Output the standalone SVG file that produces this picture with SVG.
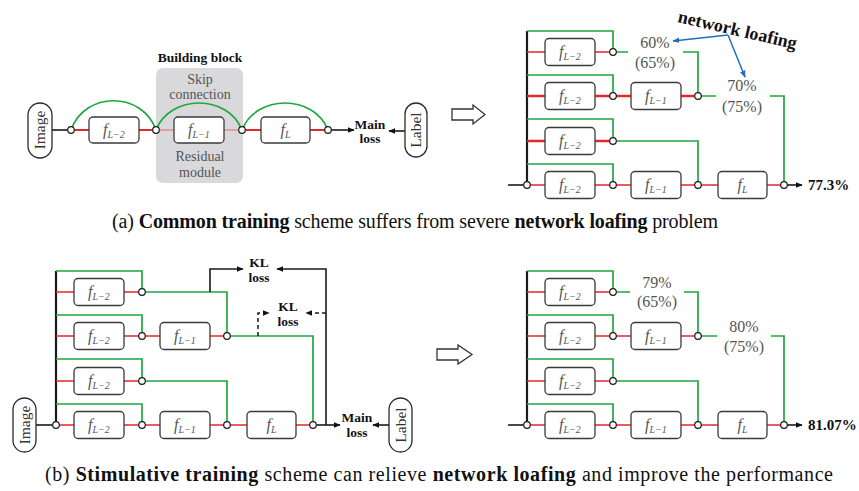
<svg xmlns="http://www.w3.org/2000/svg" width="859" height="491" viewBox="0 0 859 491">
<style>
text{font-family:"Liberation Serif","Times New Roman",serif}
.blk{stroke:#1a1a1a;stroke-width:1.6;fill:none}
.trunk{stroke:#1a1a1a;stroke-width:2.2;fill:none}
.dash{stroke:#1a1a1a;stroke-width:1.5;fill:none;stroke-dasharray:4 3}
.grn{stroke:#1fa83f;stroke-width:1.7;fill:none}
.red{stroke:#e8262b;stroke-width:1.7;fill:none}
.redl{stroke:#e98a8c;stroke-width:1.7;fill:none}
.blue{stroke:#1f6fc0;stroke-width:1.5;fill:none}
.box{fill:#fff;stroke:#3a3a3a;stroke-width:1.3}
.pill{fill:#fff;stroke:#2a2a2a;stroke-width:1.3}
.jn{fill:#fff;stroke:#1a1a1a;stroke-width:1.2}
.fl{font-size:16px;font-style:italic;fill:#555;text-anchor:middle}
.sub{font-size:10px}
.pct{font-size:16px;fill:#555;text-anchor:middle}
.gt{font-size:14px;fill:#555;text-anchor:middle}
.lb{font-size:13.5px;font-weight:bold;fill:#111;text-anchor:middle}
.res{font-size:15px;font-weight:bold;fill:#111}
.pt{font-size:15.5px;fill:#333;text-anchor:middle}
.cap{font-size:20px;fill:#111}
.b{font-weight:bold}
</style>
<defs>
<marker id="ah" viewBox="0 0 10 10" refX="9" refY="5" markerWidth="7" markerHeight="7" markerUnits="userSpaceOnUse" orient="auto"><path d="M0,1 L10,5 L0,9 z" fill="#111"/></marker>
<marker id="ahb" viewBox="0 0 10 10" refX="9" refY="5" markerWidth="7" markerHeight="7" markerUnits="userSpaceOnUse" orient="auto"><path d="M0,1 L10,5 L0,9 z" fill="#1f6fc0"/></marker>
</defs>

<!-- ===== Top-left: building block ===== -->
<g id="building-block">
<rect x="156" y="68" width="87" height="115" rx="7" fill="#d9d9db"/>
<text class="lb" x="200" y="62">Building block</text>
<text class="gt" x="200" y="84">Skip</text>
<text class="gt" x="200" y="99">connection</text>
<text class="gt" x="200" y="161">Residual</text>
<text class="gt" x="200" y="177">module</text>
</g>
<g id="tl-connectors">
<path class="blk" d="M52,130H71"/>
<path class="red" style="stroke-width:2.2" d="M71,130H89M139,130H156M242,130H261M310,130H328"/>
<path class="redl" d="M156,130H174M224,130H242"/>
<path class="grn" d="M71,130C85,91 142,91 156,130"/>
<path class="grn" d="M156,130C170,94 228,94 242,130"/>
<path class="grn" d="M242,130C256,94 314,94 328,130"/>
<path class="blk" d="M328,130H354" marker-end="url(#ah)"/>
<path class="blk" d="M405,131H389" marker-end="url(#ah)"/>
</g>
<g id="tl-image"><rect class="pill" x="28" y="103" width="24" height="55" rx="12"/><text class="pt" transform="translate(40,130) rotate(-90)" y="5">Image</text></g>
<g id="tl-f1"><rect class="box" x="89" y="117" width="50" height="26" rx="4"/><text class="fl" x="114" y="135">f<tspan class="sub" dy="3">L−2</tspan></text></g>
<g id="tl-f2"><rect class="box" x="174" y="117" width="50" height="26" rx="4"/><text class="fl" x="199" y="135">f<tspan class="sub" dy="3">L−1</tspan></text></g>
<g id="tl-f3"><rect class="box" x="261" y="117" width="49" height="26" rx="4"/><text class="fl" x="285.5" y="135">f<tspan class="sub" dy="3">L</tspan></text></g>
<g id="tl-junctions">
<circle class="jn" cx="71" cy="130" r="3.3"/><circle class="jn" cx="156" cy="130" r="3.3"/><circle class="jn" cx="242" cy="130" r="3.3"/><circle class="jn" cx="328" cy="130" r="3.3"/>
</g>
<g id="tl-mainloss"><text class="lb" x="370" y="129">Main</text><text class="lb" x="370" y="143">loss</text></g>
<g id="tl-label"><rect class="pill" x="405" y="103" width="22" height="54" rx="11"/><text class="pt" transform="translate(416,130) rotate(-90)" y="5">Label</text></g>

<!-- transition arrows -->
<g id="arrow-a"><polygon points="452,109 473,109 473,105 485,114.5 473,124 473,120 452,120" fill="#fff" stroke="#333" stroke-width="1.3"/></g>
<g id="arrow-b"><polygon points="437,349 458,349 458,345 472,354.5 458,364 458,360 437,360" fill="#fff" stroke="#333" stroke-width="1.3"/></g>

<!-- ===== Top-right: common training ===== -->
<g id="tr">
<g id="tr-connectors">
<path class="trunk" d="M527,31V185"/>
<path class="blk" d="M508,185H527"/>
<path class="grn" d="M527,31H613V52M527,75H613V96M527,119H613V141M527,164H613V185M613,141H698V185"/>
<path class="red" d="M527,52H545M595,52H613M527,185H545M595,185H631M681,185H718M767,185H784"/>
<path class="red" style="stroke-width:2.4" d="M527,96H545M595,96H631M681,96H698M527,141H545M595,141H613"/>
<path class="grn" d="M613,52H628M683,52H698V96M698,96H716M770,96H784V185"/>
<path class="blk" d="M784,185H802" marker-end="url(#ah)"/>
<path class="blue" d="M728,35L673,41" marker-end="url(#ahb)"/>
<path class="blue" d="M728,35L745,77" marker-end="url(#ahb)"/>
</g>
<g id="tr-b1"><rect class="box" x="545" y="38.5" width="50" height="27" rx="4"/><text class="fl" x="570" y="57">f<tspan class="sub" dy="3">L−2</tspan></text></g>
<g id="tr-b2"><rect class="box" x="545" y="82.5" width="50" height="27" rx="4"/><text class="fl" x="570" y="101">f<tspan class="sub" dy="3">L−2</tspan></text></g>
<g id="tr-b3"><rect class="box" x="631" y="82.5" width="50" height="27" rx="4"/><text class="fl" x="656" y="101">f<tspan class="sub" dy="3">L−1</tspan></text></g>
<g id="tr-b4"><rect class="box" x="545" y="127.5" width="50" height="27" rx="4"/><text class="fl" x="570" y="146">f<tspan class="sub" dy="3">L−2</tspan></text></g>
<g id="tr-b5"><rect class="box" x="545" y="171.5" width="50" height="27" rx="4"/><text class="fl" x="570" y="190">f<tspan class="sub" dy="3">L−2</tspan></text></g>
<g id="tr-b6"><rect class="box" x="631" y="171.5" width="50" height="27" rx="4"/><text class="fl" x="656" y="190">f<tspan class="sub" dy="3">L−1</tspan></text></g>
<g id="tr-b7"><rect class="box" x="718" y="171.5" width="49" height="27" rx="4"/><text class="fl" x="742.5" y="190">f<tspan class="sub" dy="3">L</tspan></text></g>
<g id="tr-junctions">
<circle class="jn" cx="527" cy="185" r="3.3"/><circle class="jn" cx="613" cy="52" r="3.3"/><circle class="jn" cx="613" cy="96" r="3.3"/><circle class="jn" cx="613" cy="141" r="3.3"/><circle class="jn" cx="613" cy="185" r="3.3"/><circle class="jn" cx="698" cy="96" r="3.3"/><circle class="jn" cx="698" cy="185" r="3.3"/><circle class="jn" cx="784" cy="185" r="3.3"/>
</g>
<g id="tr-acc1"><text class="pct" x="655" y="48">60%</text><text class="pct" x="655" y="68">(65%)</text></g>
<g id="tr-acc2"><text class="pct" x="742" y="91">70%</text><text class="pct" x="742" y="112">(75%)</text></g>
<g id="tr-result"><text class="res" x="808" y="190">77.3%</text></g>
<g id="tr-loafing"><text x="677" y="22" transform="rotate(13 677 22)" font-size="18" font-weight="bold" fill="#111">network loafing</text></g>
</g>

<!-- caption a -->
<text class="cap" x="112" y="228" textLength="606" lengthAdjust="spacing">(a) <tspan class="b">Common training</tspan> scheme suffers from severe <tspan class="b">network loafing</tspan> problem</text>

<!-- ===== Bottom-right: stimulative training result ===== -->
<g id="br" transform="translate(0,240)">
<g id="br-connectors">
<path class="trunk" d="M527,31V185"/>
<path class="blk" d="M508,185H527"/>
<path class="grn" d="M527,31H613V52M527,75H613V96M527,119H613V141M527,164H613V185M613,141H698V185"/>
<path class="red" d="M527,52H545M595,52H613M527,96H545M595,96H631M681,96H698M527,141H545M595,141H613M527,185H545M595,185H631M681,185H718M767,185H784"/>
<path class="grn" d="M613,52H630M684,52H698V96M698,96H717M771,96H784V185"/>
<path class="blk" d="M784,185H802" marker-end="url(#ah)"/>
</g>
<g id="br-b1"><rect class="box" x="545" y="38.5" width="50" height="27" rx="4"/><text class="fl" x="570" y="57">f<tspan class="sub" dy="3">L−2</tspan></text></g>
<g id="br-b2"><rect class="box" x="545" y="82.5" width="50" height="27" rx="4"/><text class="fl" x="570" y="101">f<tspan class="sub" dy="3">L−2</tspan></text></g>
<g id="br-b3"><rect class="box" x="631" y="82.5" width="50" height="27" rx="4"/><text class="fl" x="656" y="101">f<tspan class="sub" dy="3">L−1</tspan></text></g>
<g id="br-b4"><rect class="box" x="545" y="127.5" width="50" height="27" rx="4"/><text class="fl" x="570" y="146">f<tspan class="sub" dy="3">L−2</tspan></text></g>
<g id="br-b5"><rect class="box" x="545" y="171.5" width="50" height="27" rx="4"/><text class="fl" x="570" y="190">f<tspan class="sub" dy="3">L−2</tspan></text></g>
<g id="br-b6"><rect class="box" x="631" y="171.5" width="50" height="27" rx="4"/><text class="fl" x="656" y="190">f<tspan class="sub" dy="3">L−1</tspan></text></g>
<g id="br-b7"><rect class="box" x="718" y="171.5" width="49" height="27" rx="4"/><text class="fl" x="742.5" y="190">f<tspan class="sub" dy="3">L</tspan></text></g>
<g id="br-junctions">
<circle class="jn" cx="527" cy="185" r="3.3"/><circle class="jn" cx="613" cy="52" r="3.3"/><circle class="jn" cx="613" cy="96" r="3.3"/><circle class="jn" cx="613" cy="141" r="3.3"/><circle class="jn" cx="613" cy="185" r="3.3"/><circle class="jn" cx="698" cy="96" r="3.3"/><circle class="jn" cx="698" cy="185" r="3.3"/><circle class="jn" cx="784" cy="185" r="3.3"/>
</g>
<g id="br-acc1"><text class="pct" x="657" y="48">79%</text><text class="pct" x="657" y="67">(65%)</text></g>
<g id="br-acc2"><text class="pct" x="744" y="92">80%</text><text class="pct" x="744" y="112">(75%)</text></g>
<g id="br-result"><text class="res" x="808" y="190">81.07%</text></g>
</g>

<!-- ===== Bottom-left: stimulative training scheme ===== -->
<g id="bl" transform="translate(-471,240)">
<g id="bl-connectors">
<path class="trunk" d="M527,31V185"/>
<path class="blk" d="M507,185H527"/>
<path class="grn" d="M527,31H613V52M527,75H613V96M527,119H613V141M527,164H613V185M613,141H698V185"/>
<path class="red" d="M527,52H545M595,52H613M527,96H545M595,96H631M681,96H698M527,141H545M595,141H613M527,185H545M595,185H631M681,185H718M767,185H784"/>
<path class="grn" d="M613,52H698V96M698,96H784V185"/>
<path class="blk" d="M681,52V29H714" marker-end="url(#ah)"/>
<path class="blk" d="M797,185V29H748" marker-end="url(#ah)"/>
<path class="dash" d="M729,96V73H740" marker-end="url(#ah)"/>
<path class="dash" d="M797,73H777" marker-end="url(#ah)"/>
<path class="blk" d="M784,185H811" marker-end="url(#ah)"/>
</g>
<g id="bl-b1"><rect class="box" x="545" y="38.5" width="50" height="27" rx="4"/><text class="fl" x="570" y="57">f<tspan class="sub" dy="3">L−2</tspan></text></g>
<g id="bl-b2"><rect class="box" x="545" y="82.5" width="50" height="27" rx="4"/><text class="fl" x="570" y="101">f<tspan class="sub" dy="3">L−2</tspan></text></g>
<g id="bl-b3"><rect class="box" x="631" y="82.5" width="50" height="27" rx="4"/><text class="fl" x="656" y="101">f<tspan class="sub" dy="3">L−1</tspan></text></g>
<g id="bl-b4"><rect class="box" x="545" y="127.5" width="50" height="27" rx="4"/><text class="fl" x="570" y="146">f<tspan class="sub" dy="3">L−2</tspan></text></g>
<g id="bl-b5"><rect class="box" x="545" y="171.5" width="50" height="27" rx="4"/><text class="fl" x="570" y="190">f<tspan class="sub" dy="3">L−2</tspan></text></g>
<g id="bl-b6"><rect class="box" x="631" y="171.5" width="50" height="27" rx="4"/><text class="fl" x="656" y="190">f<tspan class="sub" dy="3">L−1</tspan></text></g>
<g id="bl-b7"><rect class="box" x="718" y="171.5" width="49" height="27" rx="4"/><text class="fl" x="742.5" y="190">f<tspan class="sub" dy="3">L</tspan></text></g>
<g id="bl-junctions">
<circle class="jn" cx="527" cy="185" r="3.3"/><circle class="jn" cx="613" cy="52" r="3.3"/><circle class="jn" cx="613" cy="96" r="3.3"/><circle class="jn" cx="613" cy="141" r="3.3"/><circle class="jn" cx="613" cy="185" r="3.3"/><circle class="jn" cx="698" cy="96" r="3.3"/><circle class="jn" cx="698" cy="185" r="3.3"/><circle class="jn" cx="784" cy="185" r="3.3"/>
</g>
<g id="bl-kl1"><text class="lb" x="730" y="27">KL</text><text class="lb" x="730" y="42">loss</text></g>
<g id="bl-kl2"><text class="lb" x="759" y="71">KL</text><text class="lb" x="759" y="86">loss</text></g>
</g>
<g id="bl-image"><rect class="pill" x="13" y="398" width="23" height="54" rx="11.5"/><text class="pt" transform="translate(24.5,425) rotate(-90)" y="5">Image</text></g>
<g id="bl-mainloss"><text class="lb" x="357" y="422">Main</text><text class="lb" x="357" y="437">loss</text></g>
<g id="bl-label"><rect class="pill" x="389" y="398" width="23" height="54" rx="11.5"/><text class="pt" transform="translate(400.5,425) rotate(-90)" y="5">Label</text></g>
<path class="blk" d="M389,425H373" marker-end="url(#ah)"/>

<!-- caption b -->
<text class="cap" x="45" y="481" textLength="788" lengthAdjust="spacing">(b) <tspan class="b">Stimulative training</tspan> scheme can relieve <tspan class="b">network loafing</tspan> and improve the performance</text>
</svg>
